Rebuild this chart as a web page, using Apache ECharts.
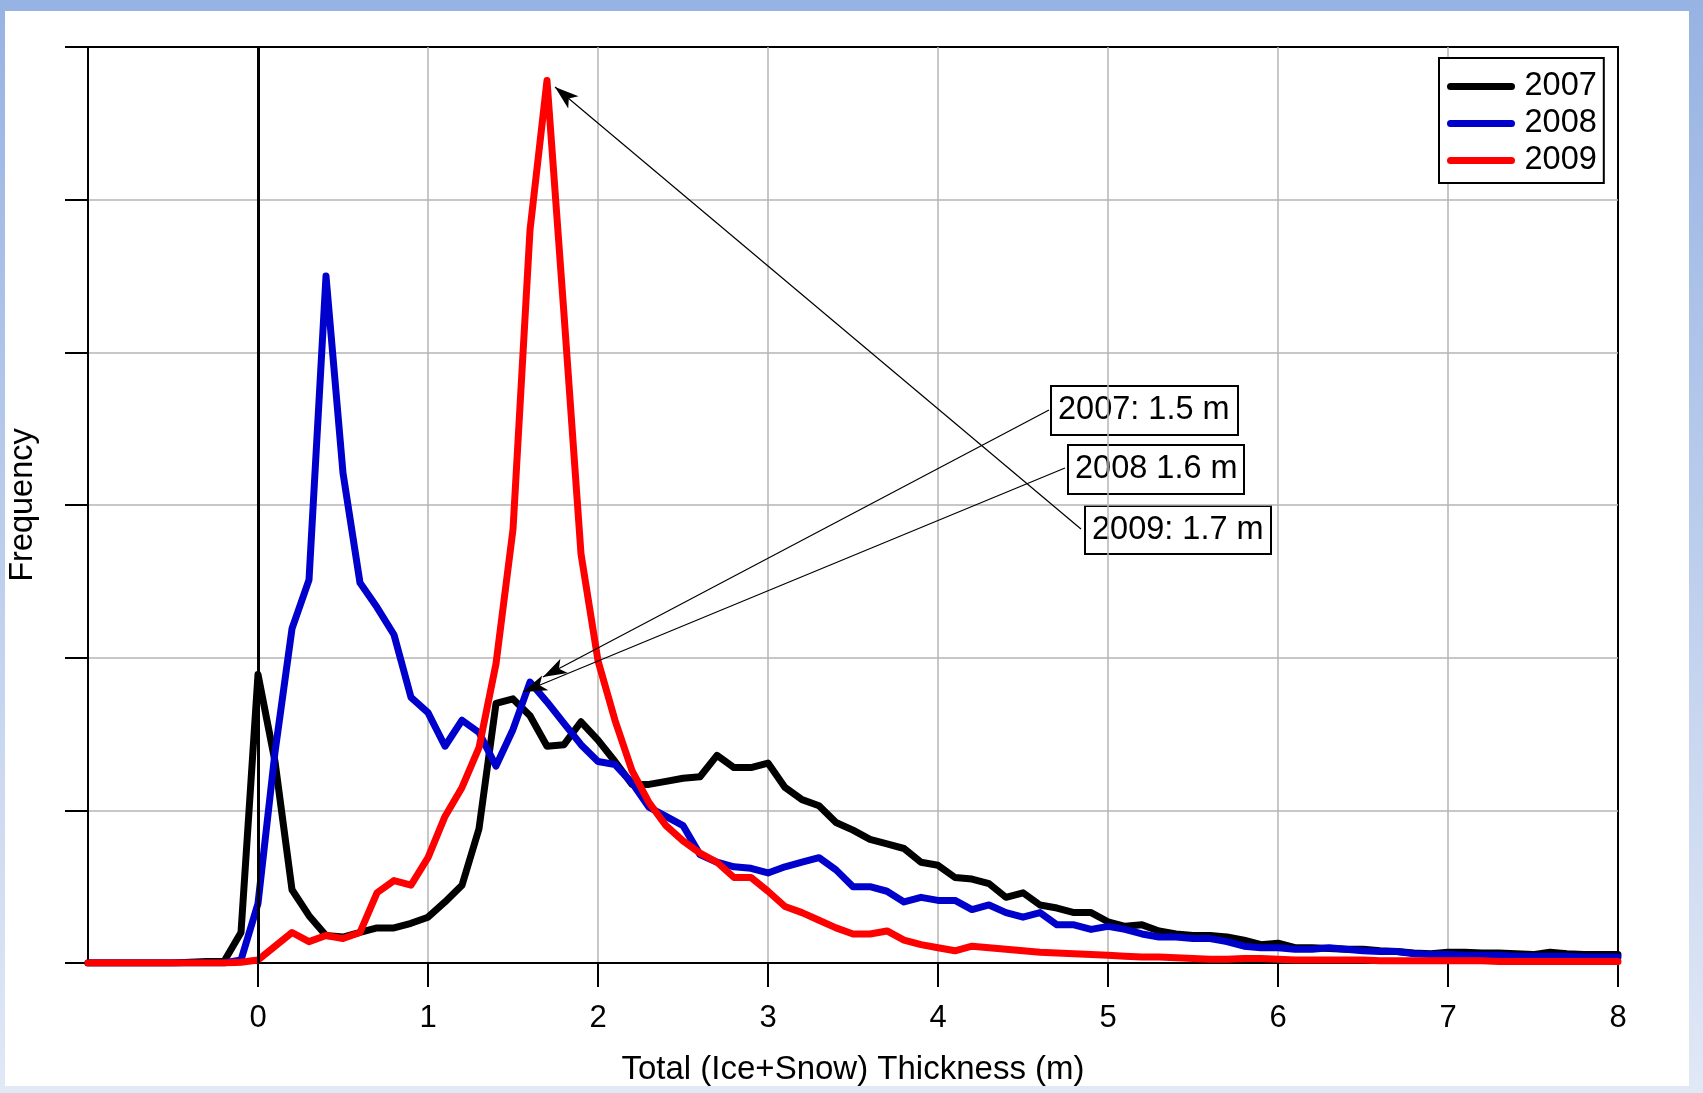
<!DOCTYPE html>
<html>
<head>
<meta charset="utf-8">
<script src="https://cdn.jsdelivr.net/npm/echarts@6/dist/echarts.min.js"></script>
<style>
  html, body { margin: 0; padding: 0; }
  #frame { position: relative; width: 1703px; height: 1093px; background: linear-gradient(#97b3e3, #e1e8f6); overflow: hidden; }
  #paper { position: absolute; left: 5px; top: 11px; width: 1684px; height: 1075px; background: #fff; }
  #chart { position: absolute; left: 0; top: 0; width: 1703px; height: 1093px; }
</style>
</head>
<body>
<div id="frame"><div id="paper"></div><div id="chart"></div></div>
<script>
// bin centres (m)
const thickness = [
  -1.0, -0.9, -0.8, -0.7, -0.6, -0.5, -0.4, -0.3, -0.2, -0.1,
  0.0, 0.1, 0.2, 0.3, 0.4, 0.5, 0.6, 0.7, 0.8, 0.9,
  1.0, 1.1, 1.2, 1.3, 1.4, 1.5, 1.6, 1.7, 1.8, 1.9,
  2.0, 2.1, 2.2, 2.3, 2.4, 2.5, 2.6, 2.7, 2.8, 2.9,
  3.0, 3.1, 3.2, 3.3, 3.4, 3.5, 3.6, 3.7, 3.8, 3.9,
  4.0, 4.1, 4.2, 4.3, 4.4, 4.5, 4.6, 4.7, 4.8, 4.9,
  5.0, 5.1, 5.2, 5.3, 5.4, 5.5, 5.6, 5.7, 5.8, 5.9,
  6.0, 6.1, 6.2, 6.3, 6.4, 6.5, 6.6, 6.7, 6.8, 6.9,
  7.0, 7.1, 7.2, 7.3, 7.4, 7.5, 7.6, 7.7, 7.8, 7.9,
  8.0
]

const freq2007 = [
  0, 0, 0, 0, 0, 0, 0.005, 0.01, 0.01, 0.2,
  1.89, 1.32, 0.48, 0.31, 0.18, 0.17, 0.2, 0.23, 0.23, 0.26,
  0.30, 0.40, 0.51, 0.88, 1.70, 1.73, 1.62, 1.42, 1.43, 1.58,
  1.46, 1.32, 1.17, 1.17, 1.19, 1.21, 1.22, 1.36, 1.28, 1.28,
  1.31, 1.15, 1.07, 1.03, 0.92, 0.87, 0.81, 0.78, 0.75, 0.66,
  0.64, 0.56, 0.55, 0.52, 0.43, 0.46, 0.38, 0.36, 0.33, 0.33,
  0.27, 0.24, 0.25, 0.21, 0.19, 0.18, 0.18, 0.17, 0.15, 0.12,
  0.13, 0.10, 0.10, 0.095, 0.09, 0.09, 0.08, 0.075, 0.065, 0.06,
  0.07, 0.07, 0.065, 0.065, 0.06, 0.055, 0.07, 0.06, 0.055, 0.055,
  0.055
]

const freq2008 = [
  0, 0, 0, 0, 0, 0, 0, 0, 0, 0.02,
  0.39, 1.38, 2.19, 2.51, 4.50, 3.21, 2.49, 2.33, 2.15, 1.74,
  1.64, 1.42, 1.59, 1.51, 1.29, 1.53, 1.84, 1.71, 1.57, 1.43,
  1.32, 1.30, 1.18, 1.02, 0.96, 0.90, 0.71, 0.66, 0.63, 0.62,
  0.59, 0.63, 0.66, 0.69, 0.61, 0.50, 0.50, 0.47, 0.40, 0.43,
  0.41, 0.41, 0.35, 0.38, 0.33, 0.30, 0.33, 0.25, 0.25, 0.22,
  0.24, 0.22, 0.19, 0.17, 0.17, 0.16, 0.16, 0.14, 0.11, 0.10,
  0.10, 0.09, 0.09, 0.10, 0.09, 0.08, 0.075, 0.075, 0.06, 0.055,
  0.055, 0.05, 0.05, 0.05, 0.045, 0.045, 0.045, 0.045, 0.04, 0.04,
  0.04
]

const freq2009 = [
  0, 0, 0, 0, 0, 0, 0, 0, 0, 0.005,
  0.02, 0.11, 0.20, 0.14, 0.18, 0.16, 0.20, 0.46, 0.54, 0.51,
  0.69, 0.96, 1.15, 1.41, 1.96, 2.84, 4.80, 5.78, 4.25, 2.68,
  1.98, 1.59, 1.26, 1.05, 0.90, 0.80, 0.72, 0.66, 0.56, 0.56,
  0.47, 0.37, 0.33, 0.28, 0.23, 0.19, 0.19, 0.21, 0.15, 0.12,
  0.10, 0.08, 0.11, 0.10, 0.09, 0.08, 0.07, 0.065, 0.06, 0.055,
  0.05, 0.045, 0.04, 0.04, 0.035, 0.03, 0.025, 0.025, 0.03, 0.03,
  0.025, 0.02, 0.02, 0.02, 0.02, 0.02, 0.015, 0.015, 0.015, 0.015,
  0.015, 0.015, 0.015, 0.01, 0.01, 0.01, 0.01, 0.01, 0.01, 0.01,
  0.01
]

const years = ['2007', '2008', '2009']
const xTicks = [0, 1, 2, 3, 4, 5, 6, 7, 8]

// annotation text and where the leader arrows start / point to (data units)
const noteLabels = ['2007: 1.5 m', '2008 1.6 m', '2009: 1.7 m']
const noteFrom = [[4.653, 3.622], [4.747, 3.242], [4.841, 2.843]]
const noteTo = [[1.676, 1.873], [1.559, 1.775], [1.747, 5.738]]

const FONT = "'Liberation Sans', Arial, sans-serif"
const colors = ['#000000', '#0000cc', '#ff0000']

var chart = echarts.init(document.getElementById('chart'), null, { renderer: 'canvas' })

function pairs (ys) {
  return thickness.map((t, i) => [t, ys[i]])
}

const lineBase = {
  type: 'line',
  symbol: 'none',
  showSymbol: false,
  smooth: false,
  silent: true,
  emphasis: { disabled: true }
}

function lineStyleFor (c) {
  return { color: c, width: 7, cap: 'round', join: 'round' }
}

// boxes for the three notes (pixel layout)
const boxes = [
  { x: 1050, y: 385, w: 187, h: 49 },
  { x: 1067, y: 444, w: 176, h: 49 },
  { x: 1084, y: 505, w: 186, h: 48 }
]

const option = {
  animation: false,
  backgroundColor: 'transparent',
  textStyle: { fontFamily: FONT },
  grid: {
    left: 88,
    top: 47,
    right: 85,
    bottom: 130,
    show: true,
    borderColor: '#000',
    borderWidth: 2,
    backgroundColor: 'transparent',
    outerBoundsMode: 'none'
  },
  legend: {
    data: years,
    orient: 'vertical',
    left: 1439,
    top: 58,
    padding: [12, 7, 6, 8],
    itemWidth: 61,
    itemHeight: 7,
    itemGap: 4,
    backgroundColor: '#fff',
    borderColor: '#000',
    borderWidth: 2,
    borderRadius: 0,
    selectedMode: false,
    lineStyle: { width: 7, cap: 'round' },
    textStyle: { fontSize: 32.5, lineHeight: 31, color: '#000', fontFamily: FONT, padding: [0, 0, 0, 8] }
  },
  xAxis: {
    type: 'value',
    min: -1,
    max: 8,
    interval: 1,
    name: 'Total (Ice+Snow) Thickness (m)',
    nameLocation: 'middle',
    nameGap: 90,
    nameMoveOverlap: false,
    nameTextStyle: { fontSize: 33, color: '#000', fontFamily: FONT },
    axisLine: { show: true, onZero: false, lineStyle: { color: '#000', width: 2 } },
    axisTick: { show: true, customValues: xTicks, length: 24, lineStyle: { color: '#000', width: 2 } },
    axisLabel: { show: true, customValues: xTicks, fontSize: 31, color: '#000', margin: 40, fontFamily: FONT },
    splitLine: { show: true, showMinLine: false, showMaxLine: false, lineStyle: { color: '#b5b5b5', width: 1.5 } }
  },
  yAxis: {
    type: 'value',
    min: 0,
    max: 6,
    interval: 1,
    name: 'Frequency',
    nameLocation: 'middle',
    nameGap: 48,
    nameMoveOverlap: false,
    nameTextStyle: { fontSize: 32.5, color: '#000', fontFamily: FONT },
    axisLine: { show: true, onZero: false, lineStyle: { color: '#000', width: 2 } },
    axisTick: { show: true, length: 23, lineStyle: { color: '#000', width: 2 } },
    axisLabel: { show: false },
    splitLine: { show: true, showMinLine: false, showMaxLine: false, lineStyle: { color: '#b5b5b5', width: 1.5 } }
  },
  series: [
    Object.assign({}, lineBase, {
      name: years[0],
      data: pairs(freq2007),
      color: colors[0],
      lineStyle: lineStyleFor(colors[0]),
      markLine: {
        silent: true,
        symbol: 'none',
        label: { show: false },
        lineStyle: { color: '#000', width: 3, type: 'solid' },
        data: [{ xAxis: 0 }]
      }
    }),
    Object.assign({}, lineBase, {
      name: years[1],
      data: pairs(freq2008),
      color: colors[1],
      lineStyle: lineStyleFor(colors[1])
    }),
    Object.assign({}, lineBase, {
      name: years[2],
      data: pairs(freq2009),
      color: colors[2],
      lineStyle: lineStyleFor(colors[2]),
      markLine: {
        silent: true,
        symbol: ['none', 'arrow'],
        symbolSize: [12, 24],
        label: { show: false },
        lineStyle: { color: '#000', width: 1.2, type: 'solid' },
        data: noteFrom.map((p, i) => [{ coord: p }, { coord: noteTo[i] }])
      }
    })
  ],
  graphic: boxes.map((b, i) => ({
    type: 'group',
    left: b.x,
    top: b.y,
    z: 100,
    children: [
      { type: 'rect', shape: { x: 0, y: 0, width: b.w, height: b.h }, style: { fill: '#fff', stroke: '#000', lineWidth: 2 } },
      { type: 'text', x: 7, y: b.h / 2, style: { text: noteLabels[i], font: '32.5px ' + FONT, fill: '#000', verticalAlign: 'middle' } }
    ]
  }))
}

chart.setOption(option)
</script>
</body>
</html>
